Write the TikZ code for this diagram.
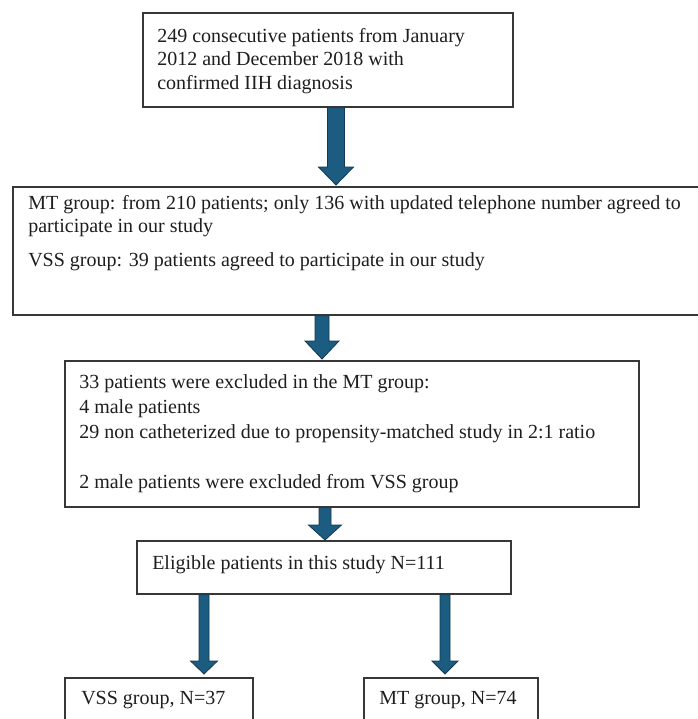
\documentclass[tikz,border=0pt]{standalone}
\usepackage{fontspec}
\setmainfont{Liberation Serif}
\usetikzlibrary{fit}
\definecolor{arrfill}{RGB}{27,92,128}
\definecolor{arrdraw}{RGB}{18,58,82}
\definecolor{boxline}{RGB}{55,55,55}
\definecolor{txtcol}{RGB}{30,30,30}
\tikzset{
  box/.style={draw=boxline, line width=1.1pt, fill=white, inner sep=0pt},
  txt/.style={anchor=north west, inner sep=0pt, align=left, text=txtcol},
  blockarrow/.style={fill=arrfill, draw=arrdraw, line width=0.6pt, line join=miter},
}
% #1 from node, #2 x centre, #3 half shaft, #4 half head, #5 head top y, #6 tip y
\newcommand\blkarrow[6]{%
  \path[blockarrow] ({#2-#3},0 |- #1.south) -- ({#2-#3},#5) -- ({#2-#4},#5) -- (#2,#6)
     -- ({#2+#4},#5) -- ({#2+#3},#5) -- ({#2+#3},0 |- #1.south) -- cycle;}
\begin{document}
\begin{tikzpicture}[x=0.75pt,y=-0.75pt,font=\fontsize{15}{17.6}\selectfont]
\useasboundingbox (0,0) rectangle (698,719);
\clip (0,0) rectangle (698,719);
% boxes
\coordinate (b1a) at (143,13);  \coordinate (b1b) at (513,107);
\coordinate (b2a) at (13,187);  \coordinate (b2b) at (702,315);
\coordinate (b3a) at (65,361);  \coordinate (b3b) at (639,507);
\coordinate (b4a) at (137,541); \coordinate (b4b) at (511,594);
\coordinate (b5a) at (65,678);  \coordinate (b5b) at (253,740);
\coordinate (b6a) at (364,678); \coordinate (b6b) at (538,740);
\node[box, fit=(b1a)(b1b)] (b1) {};
\node[box, fit=(b2a)(b2b)] (b2) {};
\node[box, fit=(b3a)(b3b)] (b3) {};
\node[box, fit=(b4a)(b4b)] (b4) {};
\node[box, fit=(b5a)(b5b)] (b5) {};
\node[box, fit=(b6a)(b6b)] (b6) {};
% texts
\node[txt] (t1) at (157,28) {249 consecutive patients from January\\2012 and December 2018 with\\confirmed IIH diagnosis};
\node[txt] (t2) at (28,195) {MT group: from 210 patients; only 136 with updated telephone number agreed to\\participate in our study\\[7.5pt]VSS group: 39 patients agreed to participate in our study};
\node[txt, font=\fontsize{15}{18.75}\selectfont] (t3) at (79,374) {33 patients were excluded in the MT group:\\4 male patients\\29 non catheterized due to propensity-matched study in 2:1 ratio\\[18.75pt]2 male patients were excluded from VSS group};
\node[txt] (t4) at (152,555) {Eligible patients in this study N=111};
\node[txt] (t5) at (81,691) {VSS group, N=37};
\node[txt] (t6) at (379,691) {MT group, N=74};
% arrows
\blkarrow{b1}{336}{8.5}{17.5}{167}{185}
\blkarrow{b2}{322}{7}{17}{341}{359}
\blkarrow{b3}{325}{6}{16.5}{525}{540}
\blkarrow{b4}{204}{5}{13.5}{661}{674}
\blkarrow{b4}{445}{5}{13}{661}{674}
\end{tikzpicture}
\end{document}
